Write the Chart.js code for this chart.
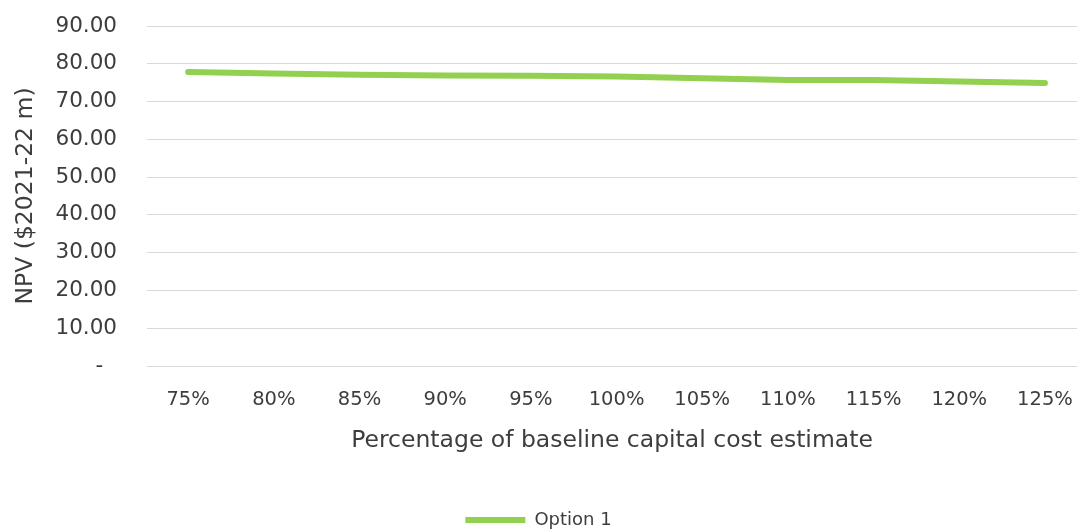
<!DOCTYPE html>
<html>
<head>
<meta charset="utf-8">
<script src="https://cdn.jsdelivr.net/npm/chart.js@4"></script>
<style>
  html, body { margin: 0; padding: 0; background: #fff; overflow: hidden; }
  #wrap { width: 1077px; height: 530px; }
</style>
</head>
<body>
<div id="wrap"><canvas id="npv" width="1077" height="530"></canvas></div>
<script>
// ── data ──
const capexPct = [75, 80, 85, 90, 95, 100, 105, 110, 115, 120, 125];
const option1 = [77.8, 77.4, 77.1, 76.9, 76.85, 76.6, 76.2, 75.7, 75.7, 75.3, 74.9];
const yTicks = [0, 10, 20, 30, 40, 50, 60, 70, 80, 90];

const FONT = '"DejaVu Sans", "Open Sans", sans-serif';
const TXT = '#3d3d3d';

new Chart(document.getElementById('npv'), {
  type: 'line',
  data: {
    datasets: [{
      label: 'Option 1',
      data: capexPct.map((p, i) => ({ x: p, y: option1[i] })),
      borderColor: '#92D050',
      backgroundColor: '#92D050',
      borderWidth: 6,
      borderCapStyle: 'round',
      borderJoinStyle: 'round',
      pointRadius: 0,
      tension: 0
    }]
  },
  options: {
    responsive: false,
    animation: false,
    layout: { padding: { top: 26, right: 0, bottom: -9, left: 0 } },
    plugins: {
      tooltip: { enabled: false },
      legend: {
        position: 'bottom',
        labels: {
          usePointStyle: true, pointStyle: 'line', pointStyleWidth: 60,
          padding: 0, color: TXT, font: { family: FONT, size: 18 }
        }
      }
    },
    scales: {
      x: {
        type: 'linear',
        min: 72.6, max: 126.87,
        // fixed axis box so the ticks/title land where the original has them
        afterFit: s => { s.height = 145; s.paddingLeft = 0; s.paddingRight = 0; },
        grid: { display: false, drawTicks: false },
        border: { display: false },
        ticks: {
          stepSize: 5, includeBounds: false, autoSkip: false, maxRotation: 0,
          padding: 22, color: TXT, font: { family: FONT, size: 19.5 },
          callback: v => v + '%'
        },
        title: {
          display: true, text: 'Percentage of baseline capital cost estimate',
          color: TXT, font: { family: FONT, size: 23.5 },
          padding: { top: 0, bottom: 56 }
        }
      },
      y: {
        min: 0, max: 90,
        afterFit: s => { s.width = 147; s.paddingTop = 0; s.paddingBottom = 0; },
        afterBuildTicks: s => { s.ticks = yTicks.map(v => ({ value: v })); },
        grid: { color: '#d9d9d9', lineWidth: 1, drawTicks: false },
        border: { display: false },
        ticks: {
          padding: 30, color: TXT, font: { family: FONT, size: 21.5 },
          callback: v => v === 0 ? '-  ' : v.toFixed(2)
        },
        title: {
          display: true, text: 'NPV ($2021-22 m)',
          color: TXT, font: { family: FONT, size: 23.5 },
          padding: { top: 12, bottom: 0 }
        }
      }
    }
  }
});
</script>
</body>
</html>
